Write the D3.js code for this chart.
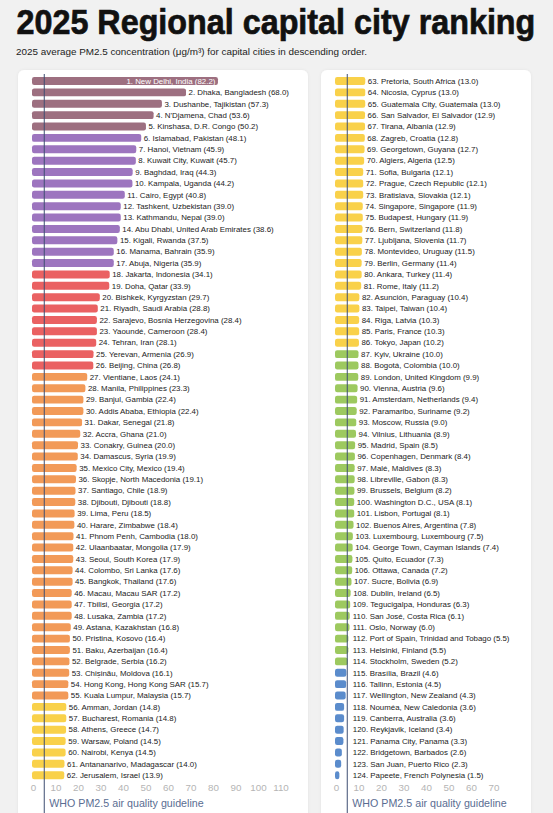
<!DOCTYPE html>
<html>
<head>
<meta charset="utf-8">
<script src="https://cdn.jsdelivr.net/npm/d3@7"></script>
<style>
  html, body { margin: 0; padding: 0; background: #f1f1f1; }
  svg { display: block; }
  text { font-family: "Liberation Sans", Arial, Helvetica, sans-serif; }
</style>
</head>
<body>
<svg id="chart" width="553" height="813"></svg>
<script>
const cities = [
  "New Delhi, India","Dhaka, Bangladesh","Dushanbe, Tajikistan","N'Djamena, Chad","Kinshasa, D.R. Congo",
  "Islamabad, Pakistan","Hanoi, Vietnam","Kuwait City, Kuwait","Baghdad, Iraq","Kampala, Uganda",
  "Cairo, Egypt","Tashkent, Uzbekistan","Kathmandu, Nepal","Abu Dhabi, United Arab Emirates","Kigali, Rwanda",
  "Manama, Bahrain","Abuja, Nigeria","Jakarta, Indonesia","Doha, Qatar","Bishkek, Kyrgyzstan",
  "Riyadh, Saudi Arabia","Sarajevo, Bosnia Herzegovina","Yaoundé, Cameroon","Tehran, Iran","Yerevan, Armenia",
  "Beijing, China","Vientiane, Laos","Manila, Philippines","Banjul, Gambia","Addis Ababa, Ethiopia",
  "Dakar, Senegal","Accra, Ghana","Conakry, Guinea","Damascus, Syria","Mexico City, Mexico",
  "Skopje, North Macedonia","Santiago, Chile","Djibouti, Djibouti","Lima, Peru","Harare, Zimbabwe",
  "Phnom Penh, Cambodia","Ulaanbaatar, Mongolia","Seoul, South Korea","Colombo, Sri Lanka","Bangkok, Thailand",
  "Macau, Macau SAR","Tbilisi, Georgia","Lusaka, Zambia","Astana, Kazakhstan","Pristina, Kosovo",
  "Baku, Azerbaijan","Belgrade, Serbia","Chișinău, Moldova","Hong Kong, Hong Kong SAR","Kuala Lumpur, Malaysia",
  "Amman, Jordan","Bucharest, Romania","Athens, Greece","Warsaw, Poland","Nairobi, Kenya",
  "Antananarivo, Madagascar","Jerusalem, Israel","Pretoria, South Africa","Nicosia, Cyprus","Guatemala City, Guatemala",
  "San Salvador, El Salvador","Tirana, Albania","Zagreb, Croatia","Georgetown, Guyana","Algiers, Algeria",
  "Sofia, Bulgaria","Prague, Czech Republic","Bratislava, Slovakia","Singapore, Singapore","Budapest, Hungary",
  "Bern, Switzerland","Ljubljana, Slovenia","Montevideo, Uruguay","Berlin, Germany","Ankara, Turkey",
  "Rome, Italy","Asunción, Paraguay","Taipei, Taiwan","Riga, Latvia","Paris, France",
  "Tokyo, Japan","Kyiv, Ukraine","Bogotá, Colombia","London, United Kingdom","Vienna, Austria",
  "Amsterdam, Netherlands","Paramaribo, Suriname","Moscow, Russia","Vilnius, Lithuania","Madrid, Spain",
  "Copenhagen, Denmark","Malé, Maldives","Libreville, Gabon","Brussels, Belgium","Washington D.C., USA",
  "Lisbon, Portugal","Buenos Aires, Argentina","Luxembourg, Luxembourg","George Town, Cayman Islands","Quito, Ecuador",
  "Ottawa, Canada","Sucre, Bolivia","Dublin, Ireland","Tegucigalpa, Honduras","San José, Costa Rica",
  "Oslo, Norway","Port of Spain, Trinidad and Tobago","Helsinki, Finland","Stockholm, Sweden","Brasília, Brazil",
  "Tallinn, Estonia","Wellington, New Zealand","Nouméa, New Caledonia","Canberra, Australia","Reykjavik, Iceland",
  "Panama City, Panama","Bridgetown, Barbados","San Juan, Puerto Rico","Papeete, French Polynesia"
];
const values = [
  82.2,68.0,57.3,53.6,50.2, 48.1,45.9,45.7,44.3,44.2, 40.8,39.0,39.0,38.6,37.5, 35.9,35.9,34.1,33.9,29.7,
  28.8,28.4,28.4,28.1,26.9, 26.8,24.1,23.3,22.4,22.4, 21.8,21.0,20.0,19.9,19.4, 19.1,18.9,18.8,18.5,18.4,
  18.0,17.9,17.9,17.6,17.6, 17.2,17.2,17.2,16.8,16.4, 16.4,16.2,16.1,15.7,15.7, 14.8,14.8,14.7,14.5,14.5,
  14.0,13.9,13.0,13.0,13.0, 12.9,12.9,12.8,12.7,12.5, 12.1,12.1,12.1,11.9,11.9, 11.8,11.7,11.5,11.4,11.4,
  11.2,10.4,10.4,10.3,10.3, 10.2,10.0,10.0,9.9,9.6, 9.4,9.2,9.0,8.9,8.5, 8.4,8.3,8.3,8.2,8.1,
  8.1,7.8,7.5,7.4,7.3, 7.2,6.9,6.5,6.3,6.1, 6.0,5.5,5.5,5.2,4.6, 4.5,4.3,3.6,3.6,3.4,
  3.3,2.6,2.3,1.5
];
const leftTicks = [0,10,20,30,40,50,60,70,80,90,100,110];
const rightTicks = [0,10,20,30,40,50,60,70];
const categoryBreaks = [5.05, 10.05, 15.05, 25.05, 35.05, 50.05];
const categoryColors = ["#5b8ccc","#9dc95f","#f9d14a","#f29a58","#ea6162","#9d75bf","#9d6f80"];
const guidelineValue = 5;
const titleText = "2025 Regional capital city ranking";
const subtitleText = "2025 average PM2.5 concentration (μg/m³) for capital cities in descending order.";
const guidelineText = "WHO PM2.5 air quality guideline";

const data = cities.map((c, i) => ({ rank: i + 1, city: c, value: values[i] }));
const perPanel = 62;
const panels = [
  { rows: data.slice(0, perPanel), x: 18, w: 290, x0: 33, max: 110, ticks: leftTicks },
  { rows: data.slice(perPanel), x: 321, w: 210, x0: 336, max: 70, ticks: rightTicks }
];

const svg = d3.select("#chart");
svg.append("rect").attr("width", 553).attr("height", 813).attr("fill", "#f1f1f1");

// Title: bold, horizontally condensed to fit the reference width
const titleG = svg.append("g");
const title = titleG.append("text").attr("x", 0).attr("y", 0)
  .attr("font-weight", "bold").attr("font-size", 35)
  .attr("fill", "#111").attr("stroke", "#111").attr("stroke-width", 0.7)
  .text(titleText);
const tLen = title.node().getComputedTextLength();
const targetW = 519;
titleG.attr("transform", `translate(16.5,33.5) scale(${targetW / tLen},1)`);

svg.append("text").attr("x", 16).attr("y", 55)
  .attr("font-size", 9.9).attr("fill", "#222").text(subtitleText);

const color = d3.scaleThreshold().domain(categoryBreaks).range(categoryColors);
const pxPerUnit = 2.25;

const defs = svg.append("defs");
const f = defs.append("filter").attr("id", "sh").attr("x", "-5%").attr("y", "-5%").attr("width", "110%").attr("height", "110%");
f.append("feDropShadow").attr("dx", 0).attr("dy", 0).attr("stdDeviation", 1.5).attr("flood-color", "#000").attr("flood-opacity", 0.06);

panels.forEach(p => {
  const g = svg.append("g");
  g.append("rect").attr("x", p.x).attr("y", 70).attr("width", p.w).attr("height", 760)
    .attr("rx", 6).attr("fill", "#fff").attr("filter", "url(#sh)");

  const x = d3.scaleLinear().domain([0, p.max]).range([p.x0, p.x0 + p.max * pxPerUnit]);
  const y = d3.scaleBand().domain(d3.range(perPanel)).range([75.3, 75.3 + perPanel * 11.38]).paddingInner(0.3).paddingOuter(0.15);
  const gx = x(guidelineValue);

  g.selectAll("rect.bar").data(p.rows).join("rect").attr("class", "bar")
    .attr("x", x(0) - 1)
    .attr("y", (d, i) => y(i))
    .attr("width", d => x(d.value) - x(0) + 1)
    .attr("height", y.bandwidth())
    .attr("rx", 2.2)
    .attr("fill", d => color(d.value));

  g.selectAll("text.lab").data(p.rows).join("text").attr("class", "lab")
    .attr("x", d => d.rank === 1 ? x(d.value) - 2.5 : Math.max(x(d.value), gx + 3) + 2.5)
    .attr("y", (d, i) => y(i) + y.bandwidth() / 2)
    .attr("dy", "0.35em")
    .attr("text-anchor", d => d.rank === 1 ? "end" : "start")
    .attr("font-size", 7.9)
    .attr("fill", d => d.rank === 1 ? "#fff" : "#222")
    .text(d => `${d.rank}. ${d.city} (${d.value.toFixed(1)})`);

  const axis = d3.axisBottom(x).tickValues(p.ticks).tickSize(0).tickPadding(0);
  const ag = g.append("g").attr("transform", "translate(0,784)").call(axis);
  ag.select(".domain").remove();
  ag.selectAll("text").attr("font-size", 9.8).attr("fill", "#b5b5b5")
    .attr("font-family", "'Liberation Sans', Arial, sans-serif");

  g.append("line").attr("x1", gx).attr("x2", gx).attr("y1", 74).attr("y2", 813)
    .attr("stroke", "#3e4d72").attr("stroke-width", 1);
  g.append("text").attr("x", gx + 5).attr("y", 807)
    .attr("font-size", 10.7).attr("fill", "#5a6d92").text(guidelineText);
});
</script>
</body>
</html>
